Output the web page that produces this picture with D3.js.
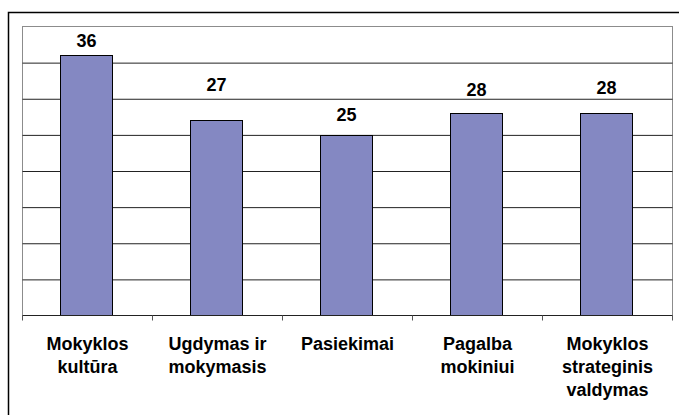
<!DOCTYPE html>
<html>
<head>
<meta charset="utf-8">
<script src="https://cdn.jsdelivr.net/npm/d3@7"></script>
<style>
  body { margin: 0; background: #fff; }
  svg { display: block; font-family: Arial, "Liberation Sans", sans-serif; }
</style>
</head>
<body>
<div id="chart"></div>
<script>
// data
var categories = ["Mokyklos kultūra", "Ugdymas ir mokymasis", "Pasiekimai", "Pagalba mokiniui", "Mokyklos strateginis valdymas"];
var labelLines = [
  ["Mokyklos", "kultūra"],
  ["Ugdymas ir", "mokymasis"],
  ["Pasiekimai"],
  ["Pagalba", "mokiniui"],
  ["Mokyklos", "strateginis", "valdymas"]
];
var values = [36, 27, 25, 28, 28];
var gridTicks = [5, 10, 15, 20, 25, 30, 35];

// value labels were nudged by hand in the original (px above bar top)
var labelLift = [8, 29, 14, 17, 19];

var svgWidth = 679;
var svgHeight = 415;

var plot = { left: 22.5, top: 26.5, right: 672.5, bottom: 315.5 };

var svg = d3.select("#chart")
  .append("svg")
  .attr("width", svgWidth)
  .attr("height", svgHeight);

// outer chart frame
svg.append("rect")
  .attr("x", 8.5)
  .attr("y", 12.5)
  .attr("width", 680)
  .attr("height", 420)
  .attr("fill", "#fff")
  .attr("stroke", "#000")
  .attr("stroke-width", 1.5);

var xScale = d3.scaleBand()
  .domain(categories)
  .range([plot.left, plot.right])
  .paddingInner(0.6)
  .paddingOuter(0.3);

var yScale = d3.scaleLinear()
  .domain([0, 40])
  .range([plot.bottom, plot.top]);

// plot area border
svg.append("rect")
  .attr("x", plot.left)
  .attr("y", plot.top)
  .attr("width", plot.right - plot.left)
  .attr("height", plot.bottom - plot.top)
  .attr("fill", "#fff")
  .attr("stroke", "#8c8c8c")
  .attr("stroke-width", 1);

// gridlines
var grid = svg.append("g")
  .attr("transform", `translate(${plot.left},0)`)
  .call(d3.axisLeft(yScale)
    .tickValues(gridTicks)
    .tickSize(-(plot.right - plot.left))
    .tickFormat(""));
grid.select(".domain").remove();
grid.selectAll(".tick line")
  .attr("stroke", "#222")
  .attr("stroke-width", 1);

// bars
svg.selectAll(".bar")
  .data(values)
  .enter()
  .append("rect")
  .attr("class", "bar")
  .attr("x", (d, i) => Math.round(xScale(categories[i])) - 1.5)
  .attr("y", d => Math.round(yScale(d)) + 0.5)
  .attr("width", xScale.bandwidth())
  .attr("height", d => plot.bottom - Math.round(yScale(d)) - 0.5)
  .attr("fill", "#8488c2")
  .attr("stroke", "#000")
  .attr("stroke-width", 1);

// x axis with ticks between categories
var edgeScale = d3.scaleLinear().domain([0, categories.length]).range([plot.left, plot.right]);
svg.append("line")
  .attr("x1", plot.left).attr("x2", plot.right)
  .attr("y1", plot.bottom).attr("y2", plot.bottom)
  .attr("stroke", "#222");
svg.selectAll(".xtick")
  .data(d3.range(categories.length + 1))
  .enter()
  .append("line")
  .attr("class", "xtick")
  .attr("x1", d => edgeScale(d)).attr("x2", d => edgeScale(d))
  .attr("y1", plot.bottom).attr("y2", plot.bottom + 5)
  .attr("stroke", "#555");

// value labels
svg.selectAll(".val")
  .data(values)
  .enter()
  .append("text")
  .attr("class", "val")
  .attr("x", (d, i) => xScale(categories[i]) + xScale.bandwidth() / 2 - 1)
  .attr("y", (d, i) => yScale(d) - labelLift[i])
  .attr("text-anchor", "middle")
  .style("font-size", "18px")
  .style("font-weight", "bold")
  .attr("fill", "#000")
  .text(d => d);

// category labels
var catText = svg.selectAll(".cat")
  .data(categories)
  .enter()
  .append("text")
  .attr("class", "cat")
  .attr("text-anchor", "middle")
  .style("font-size", "18px")
  .style("font-weight", "bold")
  .attr("fill", "#000");

catText.each(function(d, i) {
  var t = d3.select(this);
  var cx = xScale(d) + xScale.bandwidth() / 2;
  labelLines[i].forEach(function(line, j) {
    t.append("tspan")
      .attr("x", cx)
      .attr("y", 350 + j * 23)
      .text(line);
  });
});
</script>
</body>
</html>
